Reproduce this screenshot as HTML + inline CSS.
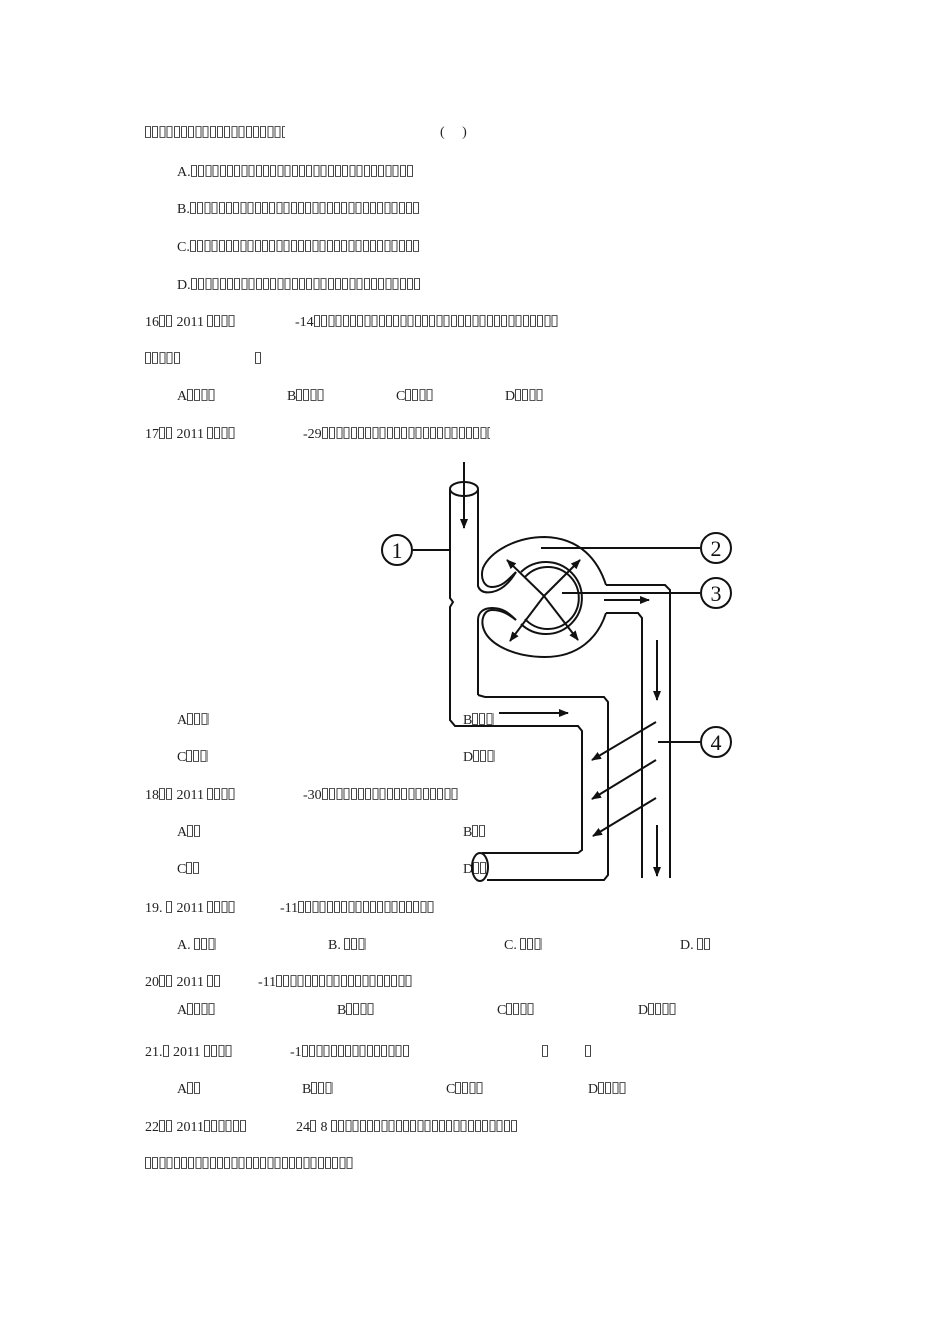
<!DOCTYPE html>
<html><head><meta charset="utf-8"><style>
html,body{margin:0;padding:0;background:#fff;}
body{width:950px;height:1344px;position:relative;overflow:hidden;font-family:"Liberation Serif",serif;font-size:14px;color:#222;}
.l{position:absolute;white-space:nowrap;line-height:14px;height:14px;}
i.b{display:inline-block;height:12px;vertical-align:-1px;
background:
repeating-linear-gradient(90deg,#444 0 1px,transparent 1px 5px,#444 5px 6px,transparent 6px 7.2px);
}
i.b::before{content:"";display:block;height:12px;
background:
repeating-linear-gradient(90deg,#555 0 6px,transparent 6px 7.2px) top/100% 1px no-repeat,
repeating-linear-gradient(90deg,#555 0 6px,transparent 6px 7.2px) bottom/100% 1px no-repeat;}
svg{position:absolute;left:0;top:0;}
</style></head><body>
<div class="l" style="left:145px;top:126px"><i class="b" style="width:140px"></i></div>
<div class="l" style="left:440px;top:126px">(&nbsp;&nbsp;&nbsp;&nbsp;&nbsp;)</div>
<div class="l" style="left:177px;top:165px">A.<i class="b" style="width:223px"></i></div>
<div class="l" style="left:177px;top:202px">B.<i class="b" style="width:230px"></i></div>
<div class="l" style="left:177px;top:240px">C.<i class="b" style="width:230px"></i></div>
<div class="l" style="left:177px;top:278px">D.<i class="b" style="width:230px"></i></div>
<div class="l" style="left:145px;top:315px">16<i class="b" style="width:14px"></i> 2011 <i class="b" style="width:29px"></i></div>
<div class="l" style="left:295px;top:315px">-14<i class="b" style="width:245px"></i></div>
<div class="l" style="left:145px;top:352px"><i class="b" style="width:36px"></i></div>
<div class="l" style="left:255px;top:352px"><i class="b" style="width:7px"></i></div>
<div class="l" style="left:177px;top:389px">A<i class="b" style="width:29px"></i></div>
<div class="l" style="left:287px;top:389px">B<i class="b" style="width:29px"></i></div>
<div class="l" style="left:396px;top:389px">C<i class="b" style="width:29px"></i></div>
<div class="l" style="left:505px;top:389px">D<i class="b" style="width:29px"></i></div>
<div class="l" style="left:145px;top:427px">17<i class="b" style="width:14px"></i> 2011 <i class="b" style="width:29px"></i></div>
<div class="l" style="left:303px;top:427px">-29<i class="b" style="width:168px"></i></div>
<div class="l" style="left:177px;top:713px">A<i class="b" style="width:22px"></i></div>
<div class="l" style="left:463px;top:713px">B<i class="b" style="width:22px"></i></div>
<div class="l" style="left:177px;top:750px">C<i class="b" style="width:22px"></i></div>
<div class="l" style="left:463px;top:750px">D<i class="b" style="width:22px"></i></div>
<div class="l" style="left:145px;top:788px">18<i class="b" style="width:14px"></i> 2011 <i class="b" style="width:29px"></i></div>
<div class="l" style="left:303px;top:788px">-30<i class="b" style="width:136px"></i></div>
<div class="l" style="left:177px;top:825px">A<i class="b" style="width:14px"></i></div>
<div class="l" style="left:463px;top:825px">B<i class="b" style="width:14px"></i></div>
<div class="l" style="left:177px;top:862px">C<i class="b" style="width:14px"></i></div>
<div class="l" style="left:463px;top:862px">D<i class="b" style="width:14px"></i></div>
<div class="l" style="left:145px;top:901px">19. <i class="b" style="width:7px"></i> 2011 <i class="b" style="width:29px"></i></div>
<div class="l" style="left:280px;top:901px">-11<i class="b" style="width:136px"></i></div>
<div class="l" style="left:177px;top:938px">A. <i class="b" style="width:22px"></i></div>
<div class="l" style="left:328px;top:938px">B. <i class="b" style="width:22px"></i></div>
<div class="l" style="left:504px;top:938px">C. <i class="b" style="width:22px"></i></div>
<div class="l" style="left:680px;top:938px">D. <i class="b" style="width:14px"></i></div>
<div class="l" style="left:145px;top:975px">20<i class="b" style="width:14px"></i> 2011 <i class="b" style="width:14px"></i></div>
<div class="l" style="left:258px;top:975px">-11<i class="b" style="width:136px"></i></div>
<div class="l" style="left:177px;top:1003px">A<i class="b" style="width:29px"></i></div>
<div class="l" style="left:337px;top:1003px">B<i class="b" style="width:29px"></i></div>
<div class="l" style="left:497px;top:1003px">C<i class="b" style="width:29px"></i></div>
<div class="l" style="left:638px;top:1003px">D<i class="b" style="width:29px"></i></div>
<div class="l" style="left:145px;top:1045px">21.<i class="b" style="width:7px"></i> 2011 <i class="b" style="width:29px"></i></div>
<div class="l" style="left:290px;top:1045px">-1<i class="b" style="width:108px"></i></div>
<div class="l" style="left:542px;top:1045px"><i class="b" style="width:7px"></i></div>
<div class="l" style="left:585px;top:1045px"><i class="b" style="width:7px"></i></div>
<div class="l" style="left:177px;top:1082px">A<i class="b" style="width:14px"></i></div>
<div class="l" style="left:302px;top:1082px">B<i class="b" style="width:22px"></i></div>
<div class="l" style="left:446px;top:1082px">C<i class="b" style="width:29px"></i></div>
<div class="l" style="left:588px;top:1082px">D<i class="b" style="width:29px"></i></div>
<div class="l" style="left:145px;top:1120px">22<i class="b" style="width:14px"></i> 2011<i class="b" style="width:43px"></i></div>
<div class="l" style="left:296px;top:1120px">24<i class="b" style="width:7px"></i> 8 <i class="b" style="width:187px"></i></div>
<div class="l" style="left:145px;top:1157px"><i class="b" style="width:208px"></i></div>

<svg width="950" height="1344" viewBox="0 0 950 1344">
<defs><marker id="a" markerWidth="10" markerHeight="8" refX="9" refY="4" orient="auto" markerUnits="userSpaceOnUse"><path d="M0,0 L10,4 L0,8 z" fill="#111"/></marker></defs>
<g fill="none" stroke="#111" stroke-width="2">
<!-- left tube -->
<ellipse cx="464" cy="489" rx="14" ry="7"/>
<path d="M450,489 V598 L453,602 L450,607 V720 L455,726 H578 L582,731 V850 L578,853 H482"/>
<path d="M478,489 V586 C480,592 486,593 492,592 C502,590 510,582 516,572"/>
<path d="M478,695 V620 C478,612 484,608 492,608 C502,608 508,612 516,620"/>
<path d="M478,695 L485,697 H604 L608,702 V875 L604,880 H487"/>
<ellipse cx="480" cy="867" rx="8" ry="14"/>
<!-- capsule outer -->
<path d="M606,585 C598,560 580,538 545,537 C515,537 490,552 483,568 C480,578 484,587 492,587 C502,587 508,580 516,572"/>
<path d="M606,613 C598,638 578,657 545,657 C515,657 490,645 484,630 C480,620 484,610 492,610 C502,610 508,614 516,620"/>
<path d="M606,585 H665 L670,590 V878"/>
<path d="M606,613 H638 L642,618 V878"/>
<!-- inner circle double -->
<path d="M521,572 A36,36 0 1 1 521,624"/>
<path d="M525,577 A31,31 0 1 1 525,619"/>
</g>
<g stroke="#111" stroke-width="2" fill="none">
<line x1="464" y1="462" x2="464" y2="528" marker-end="url(#a)"/>
<line x1="544" y1="596" x2="507" y2="560" marker-end="url(#a)"/>
<line x1="544" y1="596" x2="580" y2="560" marker-end="url(#a)"/>
<line x1="544" y1="596" x2="510" y2="641" marker-end="url(#a)"/>
<line x1="544" y1="596" x2="578" y2="640" marker-end="url(#a)"/>
<line x1="604" y1="600" x2="649" y2="600" marker-end="url(#a)"/>
<line x1="657" y1="640" x2="657" y2="700" marker-end="url(#a)"/>
<line x1="657" y1="825" x2="657" y2="876" marker-end="url(#a)"/>
<line x1="499" y1="713" x2="568" y2="713" marker-end="url(#a)"/>
<line x1="656" y1="722" x2="592" y2="760" marker-end="url(#a)"/>
<line x1="656" y1="760" x2="592" y2="799" marker-end="url(#a)"/>
<line x1="656" y1="798" x2="593" y2="836" marker-end="url(#a)"/>
<line x1="413" y1="550" x2="450" y2="550"/>
<line x1="541" y1="548" x2="700" y2="548"/>
<line x1="562" y1="593" x2="700" y2="593"/>
<line x1="658" y1="742" x2="700" y2="742"/>
<circle cx="397" cy="550" r="15"/>
<circle cx="716" cy="548" r="15"/>
<circle cx="716" cy="593" r="15"/>
<circle cx="716" cy="742" r="15"/>
</g>
<g font-family="Liberation Serif,serif" font-size="22" text-anchor="middle" fill="#111">
<text x="397" y="558">1</text><text x="716" y="556">2</text><text x="716" y="601">3</text><text x="716" y="750">4</text>
</g>
</svg>
</body></html>
